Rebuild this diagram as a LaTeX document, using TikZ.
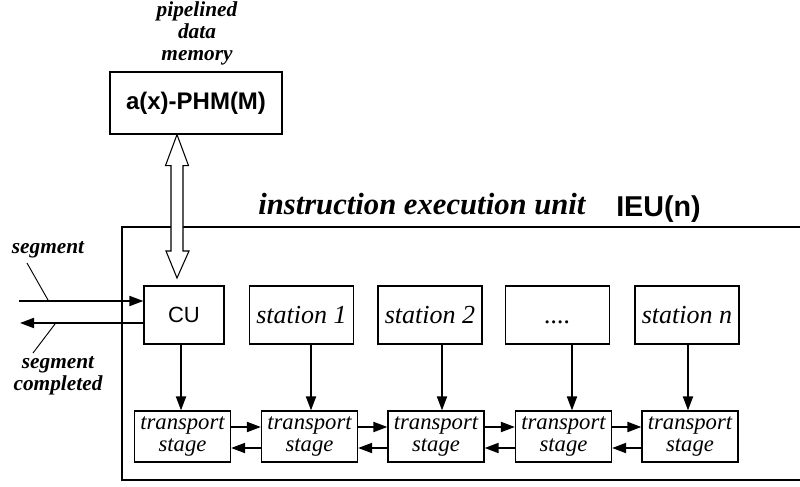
\documentclass[tikz,border=0pt]{standalone}
\usepackage{fontspec}
\setmainfont{Liberation Serif}
\setsansfont{Liberation Sans}
\usetikzlibrary{arrows.meta,calc}
\begin{document}
\begin{tikzpicture}[x=0.75pt,y=-0.75pt,
  box/.style={draw,line width=0.9pt,inner sep=0pt},
  stbox/.style={box,minimum width=78pt,minimum height=43.5pt,font=\fontsize{19.5pt}{21pt}\selectfont\itshape},
  tsbox/.style={box,minimum width=72pt,minimum height=38.25pt,align=center,font=\fontsize{17pt}{16.5pt}\selectfont\itshape},
  arr/.style={line width=1.4pt,-{Triangle[length=10.5pt,width=7.5pt]}},
  lbl/.style={align=center,inner sep=0pt,font=\fontsize{16pt}{16.5pt}\selectfont\bfseries\itshape},
  lead/.style={line width=0.7pt}]
\useasboundingbox (0,0) rectangle (800,486);
% memory
\node[lbl] (plbl) at (197,33) {pipelined\\data\\memory};
\node[box,minimum width=129pt,minimum height=46.5pt,font=\fontsize{18pt}{20pt}\selectfont\sffamily\bfseries] (mem) at (196,103) {a(x)-PHM(M)};
% IEU outer box
\node[anchor=base west,inner sep=0pt,font=\fontsize{23pt}{25pt}\selectfont\bfseries\itshape] (ieut) at (258,214) {instruction execution unit};
\node[anchor=base west,inner sep=0pt,font=\fontsize{21.5pt}{23pt}\selectfont\sffamily\bfseries] (ieun) at (616,216) {IEU(n)};
\coordinate (otr) at (800,227);
\coordinate (otl) at (122,227);
\coordinate (obl) at (122,480);
\coordinate (obr) at (800,480);
\draw[line width=0.9pt] (otr) -- (otl) -- (obl) -- (obr);
% stations
\node[box,minimum width=60pt,minimum height=43.5pt,font=\fontsize{16.5pt}{18pt}\selectfont\sffamily] (cu) at (184,315) {CU};
\node[stbox] (st1) at (301.5,315) {station 1};
\node[stbox] (st2) at (430,315) {station 2};
\node[stbox] (st3) at (557.5,315) {\vphantom{station 1}....};
\node[stbox] (stn) at (687,315) {station n};
% transport stages
\node[tsbox] (ts1) at (182.5,436.5) {transport\\stage};
\node[tsbox] (ts2) at (309.5,436.5) {transport\\stage};
\node[tsbox] (ts3) at (436,436.5) {transport\\stage};
\node[tsbox] (ts4) at (563.5,436.5) {transport\\stage};
\node[tsbox] (ts5) at (690,436.5) {transport\\stage};
% double arrow
\coordinate (dt) at ($(mem.south)+(-19,0)$);
\coordinate (db) at (177,278);
\draw[line width=0.8pt,fill=white] (dt) -- ++(11.5,31) -- ++(-5.5,0) -- (183,251) -- (189,251) -- (db) -- (166,251) -- (171,251) -- ($(dt)+(-6,31)$) -- ($(dt)+(-11.5,31)$) -- cycle;
% vertical arrows
\coordinate (x1) at (181,0);
\coordinate (x2) at (311,0);
\coordinate (x3) at (442,0);
\coordinate (x4) at (572,0);
\coordinate (x5) at (688,0);
\draw[arr] (cu.south -| x1) -- (ts1.north -| x1);
\draw[arr] (st1.south -| x2) -- (ts2.north -| x2);
\draw[arr] (st2.south -| x3) -- (ts3.north -| x3);
\draw[arr] (st3.south -| x4) -- (ts4.north -| x4);
\draw[arr] (stn.south -| x5) -- (ts5.north -| x5);
% horizontal arrows
\coordinate (yr) at (0,427);
\coordinate (yl) at (0,448);
\foreach \a/\b in {ts1/ts2,ts2/ts3,ts3/ts4,ts4/ts5}{
  \draw[arr] (\a.east |- yr) -- (\b.west |- yr);
  \draw[arr] (\b.west |- yl) -- (\a.east |- yl);
}
% segment arrows
\coordinate (sin) at (19,301);
\coordinate (sout) at (20,323);
\draw[arr] (sin) -- (cu.west |- sin);
\draw[arr] (cu.west |- sout) -- (sout);
\node[lbl] (seg) at (48,250) {segment};
\node[lbl] (segc) at (58,376) {segment\\completed};
\coordinate (l1a) at (27,263);
\coordinate (l1b) at (48,300);
\coordinate (l2a) at (33,353);
\coordinate (l2b) at (55,324);
\draw[lead] (l1a) -- (l1b);
\draw[lead] (l2a) -- (l2b);
\end{tikzpicture}
\end{document}
